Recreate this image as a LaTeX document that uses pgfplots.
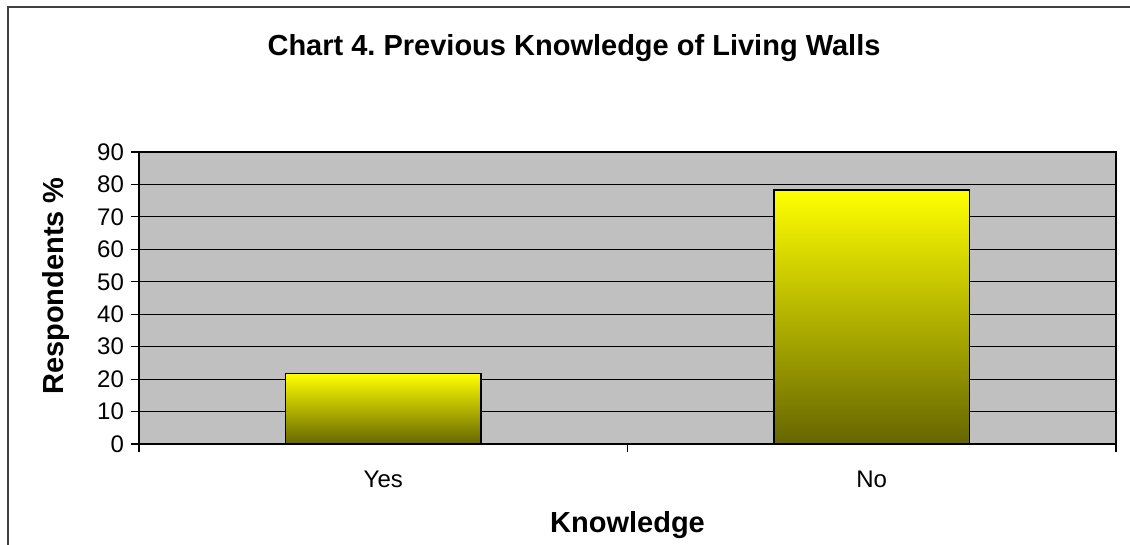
\documentclass[border=0pt]{standalone}
\usepackage{pgfplots}
\pgfplotsset{compat=1.18}
\usepackage{fontspec}
\setmainfont{Liberation Sans}
\definecolor{plotgray}{HTML}{C0C0C0}
\definecolor{bartop}{HTML}{FFFF00}
\definecolor{barbottom}{HTML}{666600}
\definecolor{framegray}{HTML}{404040}

\tikzset{shadedbar/.style={ybar, bar width=0.4, bar shift=0pt,
    draw=black, line width=0.8pt, mark=none,
    top color=bartop, bottom color=barbottom}}

\begin{document}
\frenchspacing
\begin{tikzpicture}
\path[use as bounding box] (0,0) rectangle (565pt,272.5pt);
% chart area frame (right and bottom edges are cut off in the original)
\draw[framegray, line width=0.8pt] (4pt,0) -- (4pt,269pt) -- (565pt,269pt);

\node[anchor=base, font=\bfseries\fontsize{14.5}{17}\selectfont] at (287pt,244.5pt)
  {Chart 4.\ Previous Knowledge of Living Walls};

\begin{axis}[
    at={(69.5pt,50.5pt)}, anchor=south west,
    width=488.5pt, height=146pt, scale only axis,
    axis background/.style={fill=plotgray},
    axis line style={black, line width=0.8pt},
    xmin=-0.5, xmax=1.5,
    ymin=0, ymax=90,
    ytick={0,10,...,90},
    xtick={0,1},
    xticklabels={Yes,No},
    minor xtick={-0.5,0.5,1.5},
    major x tick style={draw=none},
    tick align=outside,
    xtick pos=bottom, ytick pos=left,
    major tick length=4pt, minor tick length=4pt,
    tick style={black, line width=0.6pt},
    ymajorgrids,
    major grid style={black, line width=0.5pt},
    ticklabel style={font=\fontsize{12}{14}\selectfont},
    /pgf/number format/assume math mode=true,
    xticklabel style={yshift=-6pt},
    yticklabel style={xshift=0pt},
    xlabel={Knowledge},
    ylabel={Respondents \%},
    label style={font=\bfseries\fontsize{14.5}{17}\selectfont},
    xlabel style={at={(axis description cs:0.5,0)}, anchor=base, yshift=-44.5pt},
    ylabel style={at={(axis description cs:-0.085,0.541)}, anchor=center},
]
\addplot[shadedbar] coordinates {(0,21.7)};
\addplot[shadedbar] coordinates {(1,78.3)};
\end{axis}
\end{tikzpicture}
\end{document}
